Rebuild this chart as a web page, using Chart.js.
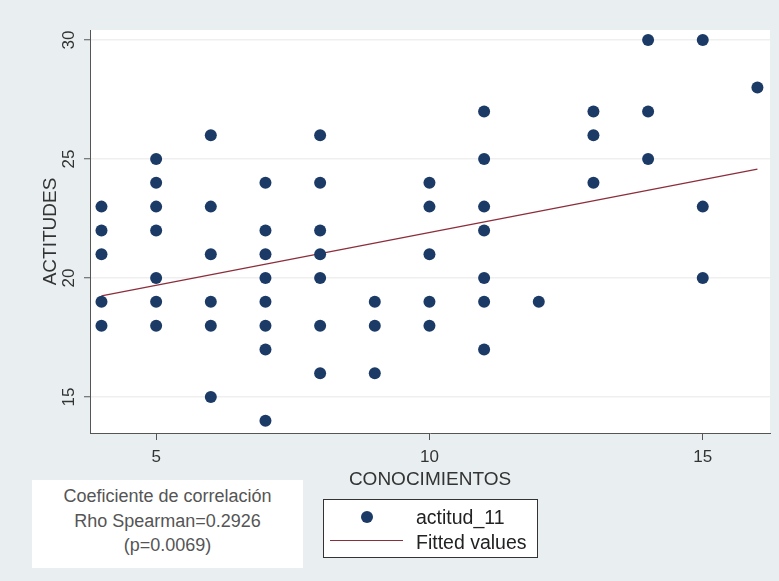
<!DOCTYPE html>
<html>
<head>
<meta charset="utf-8">
<script src="https://cdn.jsdelivr.net/npm/chart.js@4"></script>
<style>
    body { margin: 0; background: #e9eff1; font-family: "Liberation Sans", Arial, sans-serif; }
    #wrap { position: relative; width: 779px; height: 581px; }
    #note {
        position: absolute; left: 32px; top: 480px; width: 271px; height: 88px;
        box-sizing: border-box; padding-top: 4px; background: #fff;
        color: #555; font-size: 18px; line-height: 24.5px; text-align: center;
    }
    #legend {
        position: absolute; left: 323px; top: 499px; width: 215px; height: 59px;
        box-sizing: border-box; border: 1px solid #333; background: #fff;
        color: #222; font-size: 19.5px;
    }
    #legend .dot { position: absolute; left: 37px; top: 11px; width: 12px; height: 12px; border-radius: 50%; background: #1b3a66; }
    #legend .line { position: absolute; left: 6px; top: 40px; width: 73px; height: 0; border-top: 1.5px solid #8b2e3c; }
    #legend .t1 { position: absolute; left: 92px; top: 5px; line-height: 24px; }
    #legend .t2 { position: absolute; left: 92px; top: 30px; line-height: 24px; }
</style>
</head>
<body>
<div id="wrap">
    <canvas id="chart" width="779" height="581"></canvas>
    <div id="note">Coeficiente de correlación<br>Rho Spearman=0.2926<br>(p=0.0069)</div>
    <div id="legend">
        <div class="dot"></div><div class="t1">actitud_11</div>
        <div class="line"></div><div class="t2">Fitted values</div>
    </div>
</div>
<script>
// CONOCIMIENTOS (x) and ACTITUDES (y) for each respondent
const conocimientos = [
    4, 4, 4, 4, 4,
    5, 5, 5, 5, 5, 5, 5,
    6, 6, 6, 6, 6, 6,
    7, 7, 7, 7, 7, 7, 7, 7,
    8, 8, 8, 8, 8, 8, 8,
    9, 9, 9,
    10, 10, 10, 10, 10,
    11, 11, 11, 11, 11, 11, 11,
    12,
    13, 13, 13,
    14, 14, 14,
    15, 15, 15,
    16
];
const actitudes = [
    23, 22, 21, 19, 18,
    25, 24, 23, 22, 20, 19, 18,
    26, 23, 21, 19, 18, 15,
    24, 22, 21, 20, 19, 18, 17, 14,
    26, 24, 22, 21, 20, 18, 16,
    19, 18, 16,
    24, 23, 21, 19, 18,
    27, 25, 23, 22, 20, 19, 17,
    19,
    27, 26, 24,
    30, 27, 25,
    30, 23, 20,
    28
];

// fitted line, read at both ends
const fittedX = [4, 16];
const fittedY = [19.25, 24.58];

const xTicks = [5, 10, 15];
const yTicks = [15, 20, 25, 30];

const NAVY = '#1b3a66';
const MAROON = '#8b2e3c';
const FONT = '"Liberation Sans", Arial, sans-serif';

// fondo blanco del area de trazado
const plotBackground = {
    id: 'plotBackground',
    beforeDraw(chart) {
        const {ctx, chartArea: a} = chart;
        ctx.save();
        ctx.fillStyle = '#ffffff';
        ctx.fillRect(a.left, a.top, a.right - a.left, a.bottom - a.top);
        ctx.restore();
    }
};

// etiquetas de ejes estilo Stata
const axisText = {
    id: 'axisText',
    afterDraw(chart) {
        const ctx = chart.ctx;
        const xs = chart.scales.x, ys = chart.scales.y;
        ctx.save();
        ctx.fillStyle = '#333';
        ctx.textAlign = 'center';
        ctx.textBaseline = 'middle';

        ctx.font = '17px ' + FONT;
        for (const v of xTicks) {
            ctx.fillText(String(v), xs.getPixelForValue(v), 457);
        }
        for (const v of yTicks) {
            ctx.save();
            ctx.translate(69, ys.getPixelForValue(v));
            ctx.rotate(-Math.PI / 2);
            ctx.fillText(String(v), 0, 0);
            ctx.restore();
        }

        ctx.font = '19px ' + FONT;
        ctx.fillText('CONOCIMIENTOS', (chart.chartArea.left + chart.chartArea.right) / 2, 480);
        ctx.save();
        ctx.translate(51, (chart.chartArea.top + chart.chartArea.bottom) / 2);
        ctx.rotate(-Math.PI / 2);
        ctx.fillText('ACTITUDES', 0, 0);
        ctx.restore();
        ctx.restore();
    }
};

const points = conocimientos.map((x, i) => ({x: x, y: actitudes[i]}));
const fitted = fittedX.map((x, i) => ({x: x, y: fittedY[i]}));

new Chart(document.getElementById('chart'), {
    type: 'scatter',
    data: {
        datasets: [
            {
                label: 'Fitted values',
                type: 'line',
                data: fitted,
                borderColor: MAROON,
                borderWidth: 1.3,
                pointRadius: 0,
                fill: false,
                order: 2
            },
            {
                label: 'actitud_11',
                data: points,
                backgroundColor: NAVY,
                borderWidth: 0,
                pointRadius: 6,
                order: 1
            }
        ]
    },
    options: {
        responsive: false,
        animation: false,
        layout: { padding: { top: 30, right: 9, left: 0, bottom: 0 } },
        plugins: { legend: { display: false }, tooltip: { enabled: false } },
        scales: {
            x: {
                type: 'linear',
                min: 3.79,
                max: 16.23,
                afterBuildTicks: (scale) => { scale.ticks = xTicks.map(v => ({value: v})); },
                afterFit: (scale) => { scale.height = 148; },
                ticks: { display: false },
                grid: { drawOnChartArea: false, tickLength: 7, tickColor: '#555', tickWidth: 1 },
                border: { color: '#555', width: 1 }
            },
            y: {
                min: 13.49,
                max: 30.42,
                afterBuildTicks: (scale) => { scale.ticks = yTicks.map(v => ({value: v})); },
                afterFit: (scale) => { scale.width = 90; },
                ticks: { display: false },
                grid: { color: '#efefef', lineWidth: 1.5, tickLength: 6, tickColor: '#555', tickWidth: 1 },
                border: { color: '#555', width: 1 }
            }
        }
    },
    plugins: [plotBackground, axisText]
});
</script>
</body>
</html>
